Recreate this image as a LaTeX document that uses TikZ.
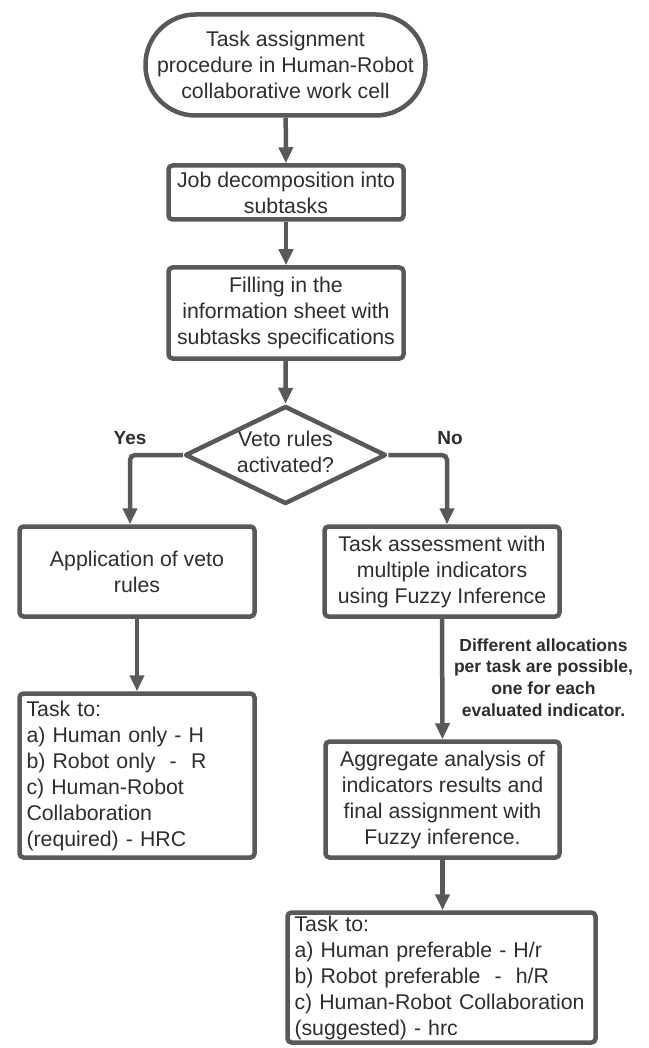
\documentclass[tikz,border=0pt]{standalone}
\usepackage{fontspec}
\setmainfont{Liberation Sans}
\usetikzlibrary{arrows.meta,shapes.geometric}
\definecolor{linegray}{HTML}{595959}
\definecolor{textgray}{HTML}{2E2E2E}
\newcommand\mainfs{\fontsize{21.3}{26}\selectfont}
\newcommand\labfs{\fontsize{17.5}{21.6}\selectfont\bfseries}
\newcommand\yesfs{\fontsize{19}{23}\selectfont\bfseries}
\begin{document}
\begin{tikzpicture}[x=1pt,y=-1pt,
  box/.style={draw=linegray, line width=4.5pt, rounded corners=4pt, fill=white,
    align=center, font=\mainfs, text=textgray, inner sep=0pt},
  lbox/.style={box, align=left, inner xsep=7pt},
  arr/.style={draw=linegray, line width=4.5pt, rounded corners=5pt,
    -{Triangle[length=16pt,width=14pt]}},
  lab/.style={font=\labfs, text=textgray, align=center, inner sep=0pt},
  yn/.style={font=\yesfs, text=textgray, inner sep=0pt}
]
\useasboundingbox[fill=white] (0,0) rectangle (648,1048);

\node[box, rounded corners=50pt, minimum width=280pt, minimum height=101pt] (start) at (285.5,65)
  {Task assignment\\procedure in Human-Robot\\collaborative work cell};
\node[box, minimum width=235pt, minimum height=54pt] (job) at (286,192.5)
  {Job decomposition into\\subtasks};
\node[box, minimum width=235pt, minimum height=91pt] (fill) at (286,313)
  {Filling in the\\information sheet with\\subtasks specifications};
\node[draw=linegray, line width=4.5pt, line join=round, diamond, fill=white, inner sep=0pt,
  minimum width=201pt, minimum height=98pt] (dec) at (285.5,455) {};
\node[font=\mainfs, text=textgray, align=center, inner sep=0pt] (dectext) at (285.5,452)
  {Veto rules\\activated?};
\node[yn] (yes) at (130,438) {Yes};
\node[yn] (no) at (450,438) {No};

\node[box, minimum width=235pt, minimum height=90pt] (appl) at (137,571.5)
  {Application of veto\\rules};
\node[box, minimum width=235pt, minimum height=90pt] (assess) at (442,571.5)
  {Task assessment with\\multiple indicators\\using Fuzzy Inference};

\node[lbox, text width=221pt, minimum width=235pt, minimum height=164pt] (taskH) at (137,775.5)
  {Task to:\\a) Human only - H\\b) Robot only\ \ -\ \ R\\c) Human-Robot\\Collaboration\\(required) - HRC};

\node[lab] (note) at (543.5,677.5)
  {Different allocations\\per task are possible,\\one for each\\evaluated indicator.};

\node[box, minimum width=234pt, minimum height=116pt] (agg) at (442.5,799.5)
  {Aggregate analysis of\\indicators results and\\final assignment with\\Fuzzy inference.};

\node[lbox, text width=294pt, minimum width=308pt, minimum height=130pt] (taskh) at (441.5,977.5)
  {Task to:\\a) Human preferable - H/r\\b) Robot preferable\ \ -\ \ h/R\\c) Human-Robot Collaboration\\(suggested) - hrc};

\draw[arr] (start) -- (job);
\draw[arr] (job) -- (fill);
\draw[arr] (fill) -- (dec.north);
\draw[arr] (dec.west) -| ([xshift=-7pt]appl.north);
\draw[arr] (dec.east) -| ([xshift=5pt]assess.north);
\draw[arr] (appl) -- (taskH);
\draw[arr] (assess.south) -- (agg.north);
\draw[arr] (agg.south) -- ([xshift=1pt]taskh.north);
\end{tikzpicture}
\end{document}
